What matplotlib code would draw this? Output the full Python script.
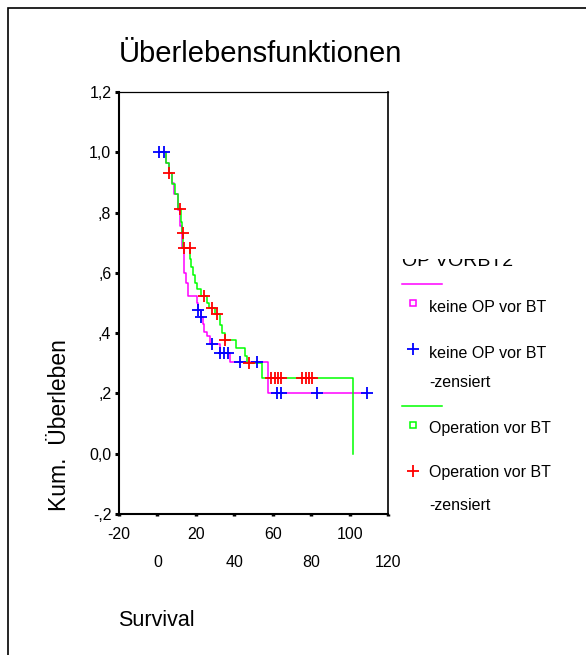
import numpy as np
import matplotlib.pyplot as plt
from matplotlib.lines import Line2D
from matplotlib.patches import Rectangle

plt.rcParams['font.family'] = ['Liberation Sans', 'DejaVu Sans']

#%% Daten (aus Grafik abgelesen)

# keine OP vor BT : Zeitpunkte der Stufen / Überleben nach der Stufe
t_keine = [4.5, 5.8, 7.5, 8.7, 10.5, 11.9, 12.7, 13.6, 14.8, 15.7, 20.6, 20.9, 22.5,
           23.6, 24.4, 25.8, 27.5, 32.4, 37.6, 57.6]
s_keine = [0.966, 0.931, 0.897, 0.862, 0.809, 0.754, 0.682, 0.599, 0.566, 0.522, 0.500,
           0.478, 0.455, 0.430, 0.405, 0.389, 0.365, 0.333, 0.303, 0.200]
t_keine_zens = [1.0, 3.5, 21.1, 22.8, 28.4, 32.6, 34.8, 36.8, 43.2, 51.9, 62.3, 64.1, 83.2, 109.3]

# Operation vor BT
t_op = [4.5, 5.8, 7.5, 9.0, 10.6, 12.3, 12.9, 13.4, 16.9, 17.7, 18.3, 19.5, 20.6, 22.5,
        25.8, 26.8, 29.8, 32.8, 33.5, 35.0, 41.1, 45.5, 46.7, 54.5, 101.8]
s_op = [0.965, 0.930, 0.895, 0.860, 0.813, 0.770, 0.732, 0.682, 0.645, 0.620, 0.594,
        0.566, 0.545, 0.524, 0.500, 0.483, 0.464, 0.428, 0.400, 0.376, 0.350, 0.325,
        0.300, 0.250, 0.0]
t_op_zens = [6.1, 11.5, 13.2, 13.6, 16.7, 24.0, 28.4, 31.0, 35.4, 47.8,
             58.9, 61.0, 62.5, 64.1, 75.4, 77.1, 78.7, 80.6]

t_start = 2.3
t_end_keine = 109.3
t_end_op = 101.8

x_ticks_top = [-20, 20, 60, 100]
x_ticks_bottom = [0, 40, 80, 120]
y_ticks = [-0.2, 0.0, 0.2, 0.4, 0.6, 0.8, 1.0, 1.2]
y_ticklabels = ['-,2', '0,0', ',2', ',4', ',6', ',8', '1,0', '1,2']

col_keine = '#FF00FF'
col_keine_z = '#0000FF'
col_op = '#00FF00'
col_op_z = '#FF0000'


def surv_at(times, surv, t):
    # Wert der Treppenfunktion zum Zeitpunkt t
    idx = np.searchsorted(times, t, side='right') - 1
    return 1.0 if idx < 0 else surv[idx]


W, H = 586, 655
def fx(px): return px / W
def fy(py): return 1 - py / H

#%% Grafik
fig = plt.figure(figsize=(W / 100, H / 100), dpi=100)
ax = fig.add_axes([fx(119), fy(514), fx(388) - fx(119), fy(92) - fy(514)])

ax.step([t_start] + t_keine + [t_end_keine], [1.0] + s_keine + [s_keine[-1]],
        where='post', color=col_keine, lw=1.1, zorder=2)
ax.step([t_start] + t_op + [t_end_op], [1.0] + s_op + [s_op[-1]],
        where='post', color=col_op, lw=1.1, zorder=3)

ax.plot(t_keine_zens, [surv_at(t_keine, s_keine, t) for t in t_keine_zens],
        ls='none', marker='+', ms=8.5, mew=1.3, color=col_keine_z, zorder=4)
ax.plot(t_op_zens, [surv_at(t_op, s_op, t) for t in t_op_zens],
        ls='none', marker='+', ms=8.5, mew=1.3, color=col_op_z, zorder=4)

ax.set_xlim(-20, 120)
ax.set_ylim(-0.2, 1.2)

# x-Achse: Beschriftung abwechselnd in zwei Reihen
ax.set_xticks(x_ticks_top)
ax.set_xticks(x_ticks_bottom, minor=True)
ax.set_xticklabels([str(v) for v in x_ticks_top])
ax.set_xticklabels([str(v) for v in x_ticks_bottom], minor=True)
ax.tick_params(axis='x', which='major', direction='out', length=1.5, width=2.5, pad=8, labelsize=11.5)
ax.tick_params(axis='x', which='minor', direction='out', length=1.5, width=2.5, pad=28, labelsize=11.5)

ax.set_yticks(y_ticks)
ax.set_yticklabels(y_ticklabels)
ax.tick_params(axis='y', direction='out', length=3, width=2.2, pad=2.5, labelsize=11.5)

ax.spines['left'].set_linewidth(1.5)
ax.spines['bottom'].set_linewidth(1.5)
ax.spines['right'].set_linewidth(1.2)
ax.spines['top'].set_linewidth(0.9)

# Titel und Achsentitel
fig.text(fx(260), fy(62), 'Überlebensfunktionen', fontsize=21, ha='center', va='baseline')
fig.text(fx(156), fy(620), 'Survival', fontsize=15.5, ha='center', va='center')
fig.text(fx(59), fy(425), 'Kum.  Überleben', fontsize=16.5, rotation=90, ha='center', va='center')

# Legende (von Hand, wie im SPSS-Output)
fig.text(fx(402), fy(266), 'OP VORBT2', fontsize=14, ha='left', va='baseline')
fig.add_artist(Rectangle((fx(395), fy(259)), fx(140), fy(0) - fy(20), transform=fig.transFigure,
                         facecolor='white', edgecolor='none', zorder=5))

fig.add_artist(Line2D([fx(402), fx(442)], [fy(284), fy(284)], color=col_keine, lw=1.1))
fig.add_artist(Line2D([fx(413)], [fy(303)], marker='s', ms=4.5, mfc='none', mec=col_keine, mew=1.1))
fig.text(fx(429), fy(307), 'keine OP vor BT', fontsize=11.5, va='center')
fig.add_artist(Line2D([fx(413)], [fy(349)], marker='+', ms=8.5, mew=1.3, color=col_keine_z))
fig.text(fx(429), fy(353), 'keine OP vor BT', fontsize=11.5, va='center')
fig.text(fx(429), fy(383), '-zensiert', fontsize=11.5, va='center')

fig.add_artist(Line2D([fx(402), fx(442)], [fy(406), fy(406)], color=col_op, lw=1.1))
fig.add_artist(Line2D([fx(413)], [fy(425)], marker='s', ms=4.5, mfc='none', mec=col_op, mew=1.1))
fig.text(fx(429), fy(428), 'Operation vor BT', fontsize=11.5, va='center')
fig.add_artist(Line2D([fx(413)], [fy(471)], marker='+', ms=8.5, mew=1.3, color=col_op_z))
fig.text(fx(429), fy(473), 'Operation vor BT', fontsize=11.5, va='center')
fig.text(fx(429), fy(505), '-zensiert', fontsize=11.5, va='center')

# äußerer Rahmen
fig.add_artist(Rectangle((fx(8), fy(700)), fx(700), fy(8) - fy(700), transform=fig.transFigure,
                         facecolor='none', edgecolor='black', lw=1.2))

fig.savefig('out.png', dpi=100)
